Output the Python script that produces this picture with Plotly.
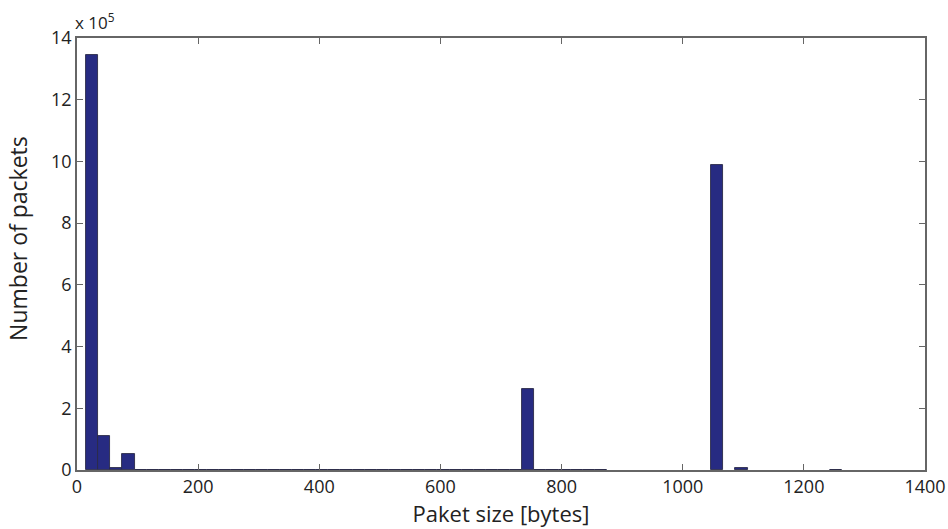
import plotly.graph_objects as go

# Histogram of packet sizes: bin centres (bytes) and counts (in units of 1e5)
bin_centers = [25, 45, 65, 85,
               105, 125, 145, 165, 185, 205, 225, 245, 265, 285,
               305, 325, 345, 365, 385, 405, 425, 445, 465, 485,
               505, 525, 545, 565, 585, 605, 625, 645, 665, 685,
               705, 725, 745, 765, 785, 805, 825, 845, 865,
               1057, 1097, 1253]
counts = [13.45, 1.10, 0.05, 0.52,
          0.01, 0.01, 0.01, 0.01, 0.01, 0.01, 0.01, 0.01, 0.01, 0.01,
          0.01, 0.01, 0.01, 0.01, 0.01, 0.01, 0.01, 0.01, 0.01, 0.01,
          0.01, 0.01, 0.01, 0.01, 0.01, 0.01, 0.01, 0.01, 0.01, 0.01,
          0.01, 0.01, 2.63, 0.01, 0.01, 0.01, 0.01, 0.01, 0.01,
          9.88, 0.05, 0.01]
bin_width = 20

x_ticks = [0, 200, 400, 600, 800, 1000, 1200, 1400]
y_ticks = [0, 2, 4, 6, 8, 10, 12, 14]

font_family = "Open Sans, Lato, sans-serif"
axis_color = "#666666"
text_color = "#222222"

fig = go.Figure(
    go.Bar(
        x=bin_centers,
        y=counts,
        width=bin_width,
        marker=dict(color="#272b82", line=dict(color="#2a2a48", width=0.9)),
        showlegend=False,
    )
)

axis_common = dict(
    showline=True,
    linecolor=axis_color,
    linewidth=1.5,
    mirror="allticks",
    ticks="inside",
    ticklen=6,
    tickwidth=1.2,
    tickcolor=axis_color,
    showgrid=False,
    zeroline=False,
    automargin=False,
    tickfont=dict(family=font_family, size=18, color=text_color),
)

fig.update_xaxes(
    range=[0, 1400],
    tickvals=x_ticks,
    ticktext=[str(v) for v in x_ticks],
    title=dict(text="Paket size [bytes]",
               font=dict(family=font_family, size=22, color=text_color),
               standoff=5),
    **axis_common,
)
fig.update_yaxes(
    range=[0, 14],
    tickvals=y_ticks,
    ticktext=[str(v) for v in y_ticks],
    **axis_common,
)

# y-axis title placed as a rotated annotation
fig.add_annotation(
    text="Number of packets",
    xref="paper", yref="paper",
    x=0, y=0.535,
    xanchor="center", yanchor="middle",
    xshift=-59,
    textangle=-90,
    showarrow=False,
    font=dict(family=font_family, size=23, color=text_color),
)

fig.add_annotation(
    text="x 10<sup>5</sup>",
    xref="paper", yref="paper",
    x=0, y=1,
    xanchor="left", yanchor="bottom",
    xshift=-4, yshift=2,
    showarrow=False,
    font=dict(family=font_family, size=17, color=text_color),
)

fig.update_layout(
    width=948,
    height=529,
    margin=dict(l=77, r=23, t=38, b=59, autoexpand=False),
    plot_bgcolor="white",
    paper_bgcolor="white",
    bargap=0,
)

fig.write_html("out.html")
